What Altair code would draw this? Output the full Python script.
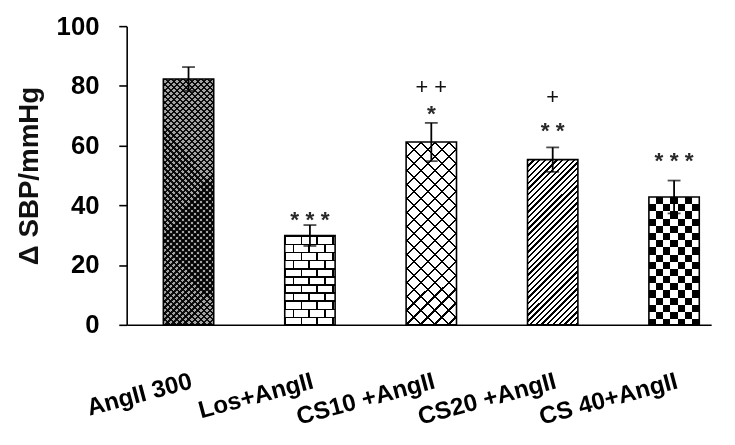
import math
import altair as alt
import pandas as pd

# ---------------- data ----------------
groups = ["AngII 300", "Los+AngII", "CS10 +AngII", "CS20 +AngII", "CS 40+AngII"]
means = [82.3, 29.9, 61.2, 55.3, 42.8]
errors = [4.0, 3.5, 6.4, 4.1, 5.5]
star_text = ["", "* * *", "*", "* *", "* * *"]
star_level = [None, 37.0, 72.6, 66.8, 56.9]
plus_text = ["", "", "+ +", "+", ""]
plus_level = [None, None, 79.5, 76.3, None]
y_ticks = [0, 20, 40, 60, 80, 100]

# ---------------- layout / style ----------------
W, H = 591, 302
YMAX = 100
FONT = "Liberation Sans"
BAR_PX = 50.9  # bandwidth of the band scale below (used only to size patterns)

df = pd.DataFrame({"group": groups, "mean": means, "err": errors})
df["lo"] = df["mean"] - df["err"]
df["hi"] = df["mean"] + df["err"]

ann = pd.DataFrame({"group": groups, "stars": star_text, "star_y": star_level,
                    "plus": plus_text, "plus_y": plus_level})

xscale = alt.Scale(domain=groups, paddingInner=0.585, paddingOuter=0.2, align=0.755)
yscale = alt.Scale(domain=[0, YMAX], nice=False)
xaxis = alt.Axis(title=None, labelAngle=-15, labelAlign="right", labelBaseline="top",
                 labelFont=FONT, labelFontWeight="bold", labelFontSize=24.5,
                 labelColor="black", labelPadding=45, ticks=False, tickSize=0,
                 domainColor="black", domainWidth=1.6, labelLimit=300)
yaxis = alt.Axis(title="\u0394 SBP/mmHg", values=y_ticks, tickSize=8, tickColor="black",
                 tickWidth=1.6, domainColor="black", domainWidth=1.6, grid=False,
                 labelFont=FONT, labelFontWeight="bold", labelFontSize=26,
                 labelColor="black", labelPadding=20, titleFont=FONT,
                 titleFontWeight="bold", titleFontSize=28, titleColor="#111111",
                 titlePadding=13)

X = alt.X("group:N", sort=groups, scale=xscale, axis=xaxis)


def Y(field):
    return alt.Y(field, type="quantitative", scale=yscale, axis=yaxis)


# ---------------- pattern helpers (styling only) ----------------
def stripe_stops(n, frac, line, bg, phase=0.0):
    stops = []
    if phase > 0:
        stops += [{"offset": 0.0, "color": bg}]
    k = 0
    while (k + phase) / n < 1.0:
        a = min((k + phase) / n, 1.0)
        b = min((k + phase + frac) / n, 1.0)
        c = min((k + phase + 1) / n, 1.0)
        stops += [{"offset": a, "color": bg}, {"offset": a, "color": line},
                  {"offset": b, "color": line}, {"offset": b, "color": bg},
                  {"offset": c, "color": bg}]
        k += 1
    return stops


def grad(kind, h, period, frac, line, bg, w=BAR_PX, phase=0.0):
    if kind == "h":
        n = h / period
        g = dict(x1=0, y1=0, x2=0, y2=1)
    elif kind == "v":
        n = w / period
        g = dict(x1=0, y1=0, x2=1, y2=0)
    elif kind == "d1":  # "/" lines
        s = (w + h) / (w * w + h * h)
        n = (w + h) / (math.sqrt(2) * period)
        g = dict(x1=0, y1=0, x2=s * w, y2=s * h)
    else:  # "\" lines
        s = (w + h) / (w * w + h * h)
        n = (w + h) / (math.sqrt(2) * period)
        g = dict(x1=0, y1=1, x2=s * w, y2=1 - s * h)
    g.update(gradient="linear", stops=stripe_stops(n, frac, line, bg, phase))
    return g


base = alt.Chart(df)
T = "rgba(0,0,0,0)"
layers = []


def bar_layer(gname, fill, blend=None):
    kw = {"fill": fill, "strokeWidth": 0}
    if blend:
        kw["blend"] = blend
    return base.transform_filter(alt.datum.group == gname).mark_bar(**kw).encode(
        x=X, y=Y("mean"))


px = [m / YMAX * H for m in means]

# bar 1: dense dark cross-hatch
layers += [bar_layer(groups[0], "#a4a4a4"),
           bar_layer(groups[0], grad("d1", px[0], 4.3, 0.38, "rgba(0,0,0,0.9)", T)),
           bar_layer(groups[0], grad("d2", px[0], 4.3, 0.38, "rgba(0,0,0,0.9)", T))]

# bar 2: staggered bricks built with channel blends
ROW = 8.2
BRICK = 16.0
layers += [bar_layer(groups[1], "#ffffff"),
           bar_layer(groups[1], grad("v", px[1], BRICK, 0.11, "#00ffff", "#ffffff"), "darken"),
           bar_layer(groups[1], grad("v", px[1], BRICK, 0.11, "#ff00ff", "#ffffff", phase=0.5), "darken"),
           bar_layer(groups[1], grad("h", px[1], 2 * ROW, 0.5, "#00ff00", "#ff0000"), "lighten"),
           bar_layer(groups[1], grad("h", px[1], ROW, 0.2, "#000000", "#ffffff"), "darken"),
           bar_layer(groups[1], "#808080", "saturation"),
           bar_layer(groups[1], "#404040", "color-burn")]

# bar 3: wide diagonal cross-hatch
layers += [bar_layer(groups[2], "#ffffff"),
           bar_layer(groups[2], grad("d1", px[2], 10.0, 0.15, "#000000", T)),
           bar_layer(groups[2], grad("d2", px[2], 10.0, 0.15, "#000000", T))]

# bar 4: dense "/" hatch
layers += [bar_layer(groups[3], "#ffffff"),
           bar_layer(groups[3], grad("d1", px[3], 4.1, 0.4, "#000000", T))]

# bar 5: checkerboard via difference blend
CELL = BAR_PX / 7
layers += [bar_layer(groups[4], grad("v", px[4], 2 * CELL, 0.5, "#000000", "#ffffff")),
           bar_layer(groups[4], grad("h", px[4], 2 * CELL, 0.5, "#ffffff", "#000000"), "difference")]

# outlines
outline = base.mark_bar(fillOpacity=0, stroke="black", strokeWidth=1.6).encode(x=X, y=Y("mean"))

# error bars
err_rule = base.mark_rule(color="black", strokeWidth=1.8).encode(x=X, y=Y("lo"), y2="hi")
cap_hi = base.mark_tick(color="black", size=13, thickness=1.8).encode(x=X, y=Y("hi"))
cap_lo = base.mark_tick(color="black", size=13, thickness=1.8).encode(x=X, y=Y("lo"))

stars = alt.Chart(ann).transform_filter(alt.datum.stars != "").mark_text(
    font=FONT, fontWeight="bold", fontSize=23, baseline="alphabetic", dy=13,
    color="#2a2a2a").encode(x=X, y=Y("star_y"), text="stars:N")
plus = alt.Chart(ann).transform_filter(alt.datum.plus != "").mark_text(
    font=FONT, fontSize=22, baseline="alphabetic", dy=7,
    color="#111111").encode(x=X, y=Y("plus_y"), text="plus:N")

chart = alt.layer(*layers, outline, err_rule, cap_hi, cap_lo, stars, plus).properties(
    width=W, height=H,
    autosize=alt.AutoSizeParams(type="none"),
    padding={"left": 120, "top": 16, "right": 16, "bottom": 103},
    background="white",
).configure_view(stroke=None)

chart.save("out.html", embed_options={"renderer": "svg", "actions": False})
